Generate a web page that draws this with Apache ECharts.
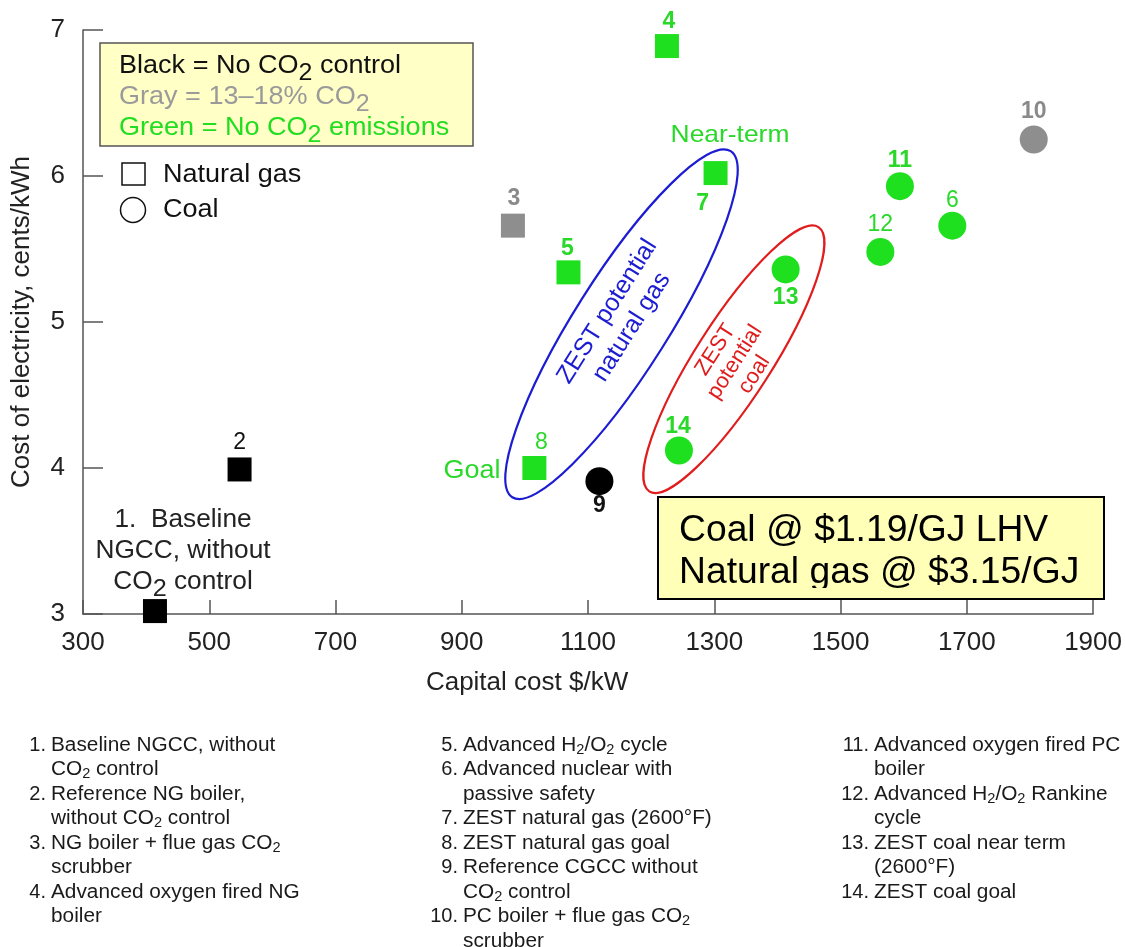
<!DOCTYPE html>
<html><head><meta charset="utf-8">
<script src="https://cdn.jsdelivr.net/npm/echarts@6/dist/echarts.min.js"></script>
<style>html,body{margin:0;padding:0;background:#fff}#c{width:1125px;height:947px}</style>
</head><body><div id="c"></div>
<script>
// ---------------- data ----------------
const pointIds = ['1','2','3','4','5','6','7','8','9','10','11','12','13','14'];
const capitalCost = [414, 548, 981, 1225, 1069, 1677, 1302, 1015, 1118, 1806, 1594, 1563, 1413, 1244];
const electricityCost = [3.02, 3.99, 5.66, 6.89, 5.34, 5.66, 6.02, 4.00, 3.91, 6.25, 5.93, 5.48, 5.36, 4.12];
const markerShape = ['square','square','square','square','square','circle','square','square','circle','circle','circle','circle','circle','circle'];
const co2Group = ['black','black','gray','green','green','green','green','green','black','gray','green','green','green','green'];
// ellipse annotations: [x1, y1, x2, y2] tips of the major axis in data units
const ellipseGasTips = [980, 3.80, 1326, 6.17];
const ellipseCoalTips = [1197, 3.84, 1465, 5.65];
const xRange = [300, 1900, 200];
const yRange = [3, 7, 1];
const xAxisTitle = 'Capital cost $/kW';
const yAxisTitle = 'Cost of electricity, cents/kWh';
const legendLines = ['Black = No CO₂ control', 'Gray = 13–18% CO₂', 'Green = No CO₂ emissions'];
const shapeLegend = ['Natural gas', 'Coal'];
const fuelPriceLines = ['Coal @ $1.19/GJ LHV', 'Natural gas @ $3.15/GJ'];
const baselineNote = ['1.  Baseline', 'NGCC, without', 'CO₂ control'];
const footnoteCol1 = [['1.', 'Baseline NGCC, without', 'CO₂ control'], ['2.', 'Reference NG boiler,', 'without CO₂ control'], ['3.', 'NG boiler + flue gas CO₂', 'scrubber'], ['4.', 'Advanced oxygen fired NG', 'boiler']];
const footnoteCol2 = [['5.', 'Advanced H₂/O₂ cycle'], ['6.', 'Advanced nuclear with', 'passive safety'], ['7.', 'ZEST natural gas (2600°F)'], ['8.', 'ZEST natural gas goal'], ['9.', 'Reference CGCC without', 'CO₂ control'], ['10.', 'PC boiler + flue gas CO₂', 'scrubber']];
const footnoteCol3 = [['11.', 'Advanced oxygen fired PC', 'boiler'], ['12.', 'Advanced H₂/O₂ Rankine', 'cycle'], ['13.', 'ZEST coal near term', '(2600°F)'], ['14.', 'ZEST coal goal']];

// ---------------- styles ----------------
const FONT = '"Liberation Sans", Arial, Helvetica, sans-serif';
const GREEN = '#1fe01f', GRAY = '#8e8e8e', BLACK = '#000000';
const groupColor = {black: BLACK, gray: GRAY, green: GREEN};
const labelColor = {black: '#111111', gray: '#8a8a8a', green: '#2ad82a'};
const labelStyle = {
  '1': null,
  '2': {off: [0, -27], bold: false},
  '3': {off: [1, -27], bold: true},
  '4': {off: [2, -24], bold: true},
  '5': {off: [-1, -24], bold: true},
  '6': {off: [0, -25], bold: false},
  '7': {off: [-13, 31], bold: true},
  '8': {off: [7, -25], bold: false},
  '9': {off: [0, 25], bold: true},
  '10': {off: [0, -28], bold: true},
  '11': {off: [0, -26], bold: true},
  '12': {off: [0, -27], bold: false},
  '13': {off: [0, 28], bold: true},
  '14': {off: [-1, -24], bold: true}
};
const ellipseStyles = [
  {ry: 47, color: '#1c1cd2', text: 'ZEST potential\nnatural gas', size: 25, lh: 29, tdx: -2, tdy: -5},
  {ry: 38, color: '#e01c1c', text: 'ZEST\npotential\ncoal', size: 22, lh: 23, tdx: 1, tdy: 3}
];

function toRich(str) {
  return str.split('₂').map(p => p ? '{t|' + p + '}' : '').join('{s|2}');
}
// main text top-aligned in the line, subscript bottom-aligned in a taller line box
function subRich(size, subSize, color, shift) {
  return {
    t: {fontSize: size, fontFamily: FONT, fill: color, lineHeight: size, verticalAlign: 'top'},
    s: {fontSize: subSize, fontFamily: FONT, fill: color, lineHeight: shift + (size + subSize) / 2, verticalAlign: 'bottom'}
  };
}
// a text line whose main-text centre sits at (x, y)
function richLine(x, y, str, size, subSize, color, shift, align, sx) {
  return {type: 'text', x: x, y: y - size / 2, scaleX: sx || 1, z: 11, style: {
    text: toRich(str), align: align, verticalAlign: 'top', rich: subRich(size, subSize, color, shift)
  }};
}

const scatterData = pointIds.map((id, i) => {
  const ls = labelStyle[id];
  const isSq = markerShape[i] === 'square';
  return {
    name: id,
    value: [capitalCost[i], electricityCost[i]],
    symbol: isSq ? 'rect' : 'circle',
    symbolSize: isSq ? 24 : 28,
    itemStyle: {color: groupColor[co2Group[i]], opacity: 1},
    label: ls ? {
      show: true, position: 'inside', offset: ls.off, formatter: id,
      color: labelColor[co2Group[i]], fontSize: 23, fontFamily: FONT,
      fontWeight: ls.bold ? 'bold' : 'normal'
    } : {show: false}
  };
});

// ---------------- graphics (annotation text & boxes) ----------------
const graphics = [];
graphics.push({type: 'rect', shape: {x: 100, y: 43, width: 373, height: 103}, style: {fill: '#ffffc6', stroke: '#555', lineWidth: 1.5}, z: 10});
const legendColors = ['#111111', '#9a9a9a', '#22dd22'];
legendLines.forEach((t, i) => {
  graphics.push(richLine(119, 66 + i * 31, t, 26, 24, legendColors[i], 7, 'left', 1.04));
});
graphics.push({type: 'rect', shape: {x: 122, y: 163, width: 23, height: 22}, style: {fill: 'none', stroke: '#111', lineWidth: 1.5}, z: 10});
graphics.push({type: 'circle', shape: {cx: 133, cy: 210, r: 12.5}, style: {fill: 'none', stroke: '#111', lineWidth: 1.5}, z: 10});
shapeLegend.forEach((t, i) => {
  graphics.push({type: 'text', x: 163, y: 175 + i * 35, scaleX: 1.04, z: 11, style: {text: t, fill: '#111', font: '26px ' + FONT, align: 'left', verticalAlign: 'middle'}});
});
graphics.push({type: 'rect', shape: {x: 658, y: 497, width: 446, height: 102}, style: {fill: '#ffffb8', stroke: '#000', lineWidth: 2}, z: 10});
fuelPriceLines.forEach((t, i) => {
  graphics.push({type: 'text', x: 679, y: 531 + i * 42, scaleX: 1.035, z: 11, style: {text: t, fill: '#000', font: '36px ' + FONT, align: 'left', verticalAlign: 'middle'}});
});
graphics.push({type: 'rect', shape: {x: 660, y: 588, width: 442, height: 10}, style: {fill: '#ffffb8'}, z: 12});
baselineNote.forEach((t, i) => {
  graphics.push(richLine(183, 520 + i * 31, t, 25, 24, '#222', 7, 'center', 1.05));
});
graphics.push({type: 'text', x: 730, y: 135, scaleX: 1.1, z: 11, style: {text: 'Near-term', fill: '#2ad82a', font: '24px ' + FONT, align: 'center', verticalAlign: 'middle'}});
graphics.push({type: 'text', x: 472, y: 471, scaleX: 1.08, z: 11, style: {text: 'Goal', fill: '#2ad82a', font: '25px ' + FONT, align: 'center', verticalAlign: 'middle'}});
const footCols = [{col: footnoteCol1, tx: 51}, {col: footnoteCol2, tx: 463}, {col: footnoteCol3, tx: 874}];
footCols.forEach(fc => {
  let row = 0;
  fc.col.forEach(entry => {
    graphics.push({type: 'text', x: fc.tx - 5, y: 745 + row * 24.5, z: 11, style: {text: entry[0], fill: '#1a1a1a', font: '20px ' + FONT, align: 'right', verticalAlign: 'middle'}});
    entry.slice(1).forEach(line => {
      graphics.push(richLine(fc.tx, 745 + row * 24.5, line, 20, 14, '#1a1a1a', 5, 'left', 1.04));
      row++;
    });
  });
});

function ellipseItem(params, api) {
  const p1 = api.coord([api.value(0), api.value(1)]);
  const p2 = api.coord([api.value(2), api.value(3)]);
  const cx = (p1[0] + p2[0]) / 2, cy = (p1[1] + p2[1]) / 2;
  const dx = p2[0] - p1[0], dy = p1[1] - p2[1];
  const a = Math.sqrt(dx * dx + dy * dy) / 2;
  const ang = Math.atan2(dy, dx);
  const st = ellipseStyles[params.dataIndex];
  return {type: 'group', children: [
    {type: 'ellipse', x: cx, y: cy, rotation: ang, shape: {cx: 0, cy: 0, rx: a, ry: st.ry}, style: {fill: 'none', stroke: st.color, lineWidth: 2.2}},
    {type: 'text', x: cx + st.tdx, y: cy + st.tdy, rotation: ang, style: {text: st.text, fill: st.color, font: st.size + 'px ' + FONT, align: 'center', verticalAlign: 'middle', lineHeight: st.lh}}
  ]};
}

const chart = echarts.init(document.getElementById('c'), null, {renderer: 'canvas'});
chart.setOption({
  backgroundColor: '#ffffff',
  animation: false,
  grid: {left: 83, right: 24, top: 30, bottom: 333},
  xAxis: {
    type: 'value', min: xRange[0], max: xRange[1], interval: xRange[2],
    name: xAxisTitle, nameLocation: 'middle', nameGap: 56,
    nameTextStyle: {fontSize: 26, fontFamily: FONT, color: '#222', padding: [0, 122, 0, 0]},
    axisLine: {show: true, onZero: false, lineStyle: {color: '#555', width: 1.5}},
    axisTick: {show: true, inside: true, length: 14, lineStyle: {color: '#555', width: 1.5}},
    axisLabel: {fontSize: 26, fontFamily: FONT, color: '#222', margin: 16, formatter: v => String(v)},
    splitLine: {show: false}
  },
  yAxis: {
    type: 'value', min: yRange[0], max: yRange[1], interval: yRange[2],
    name: yAxisTitle, nameLocation: 'middle', nameGap: 48, nameRotate: 90,
    nameTextStyle: {fontSize: 26, fontFamily: FONT, color: '#222'},
    axisLine: {show: true, onZero: false, lineStyle: {color: '#555', width: 1.5}},
    axisTick: {show: true, inside: true, length: 20, lineStyle: {color: '#555', width: 1.5}},
    axisLabel: {fontSize: 26, fontFamily: FONT, color: '#222', margin: 18},
    splitLine: {show: false}
  },
  series: [
    {type: 'custom', renderItem: ellipseItem, data: [ellipseGasTips, ellipseCoalTips], silent: true, z: 1, clip: false},
    {type: 'scatter', data: scatterData, z: 3}
  ],
  graphic: graphics
});
</script></body></html>
